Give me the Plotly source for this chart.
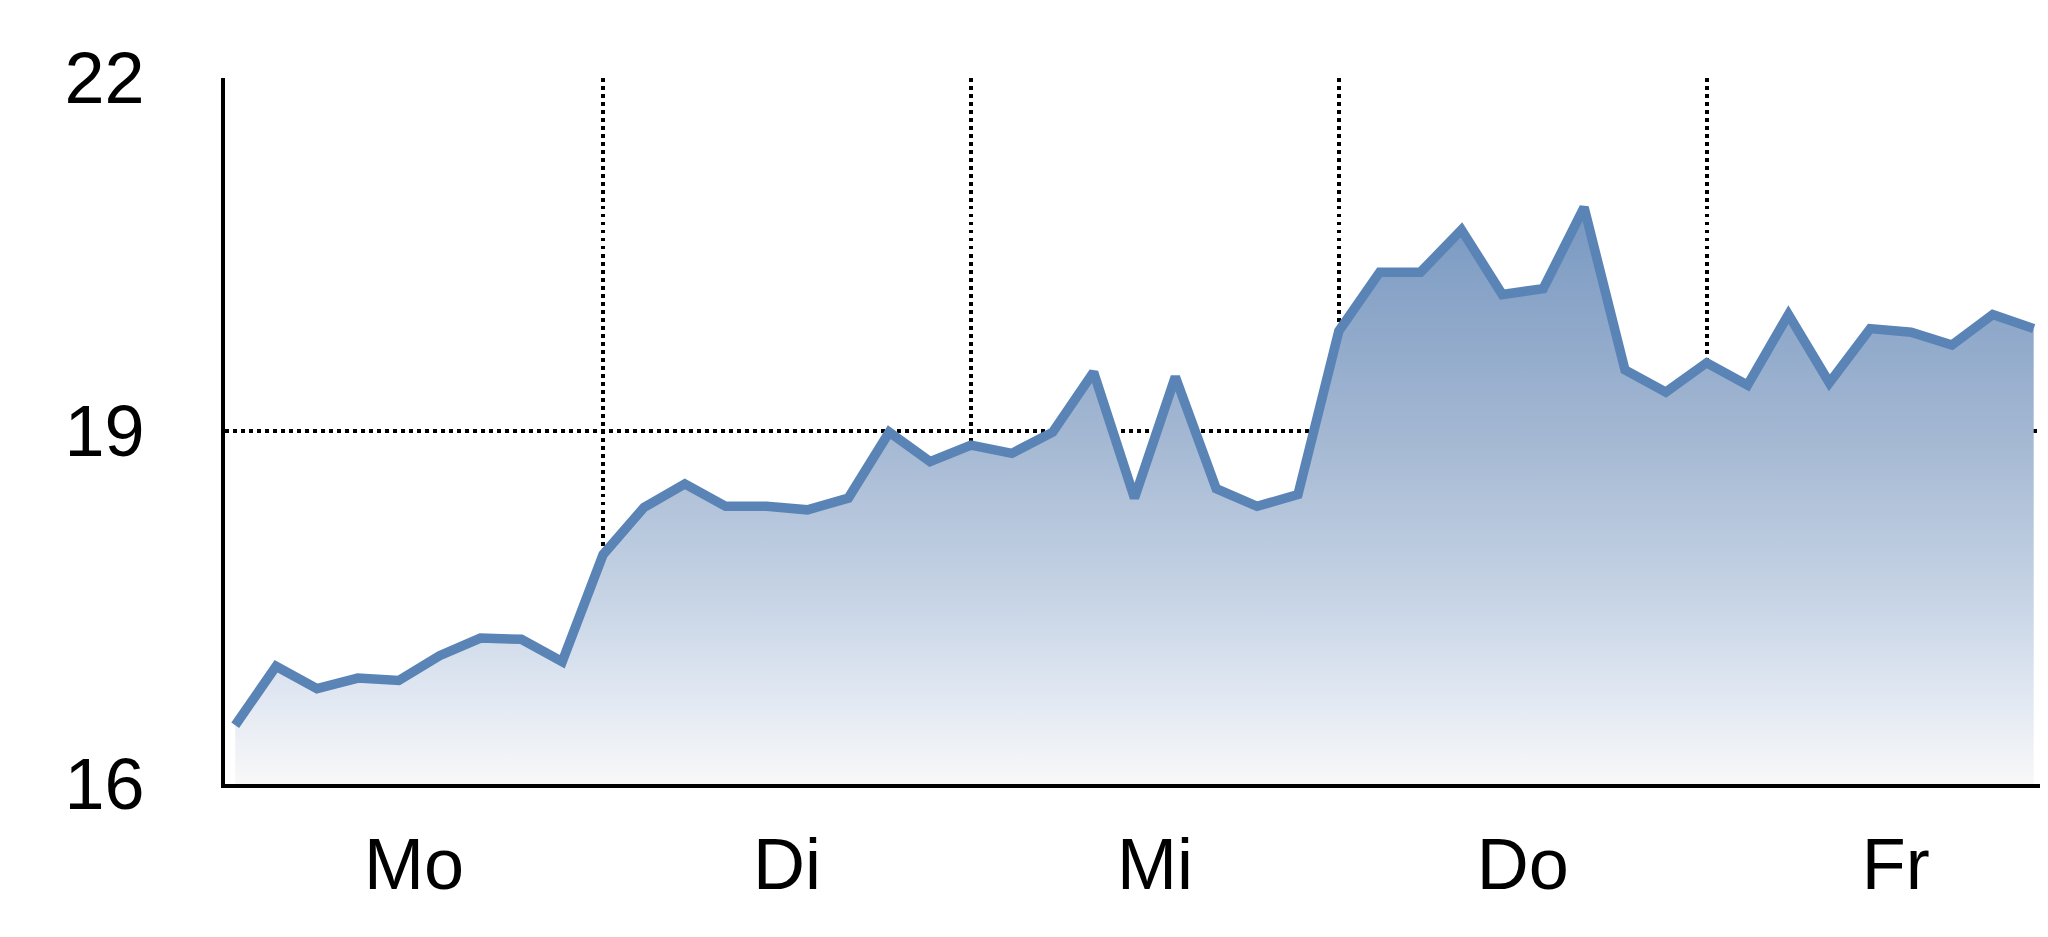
import plotly.graph_objects as go

# Wochentage (x-Achse) und Kursverlauf, 9 Werte pro Tag
days = ["Mo", "Di", "Mi", "Do", "Fr"]
kurs = [
    16.50, 17.00, 16.81, 16.90, 16.88, 17.09, 17.24, 17.23, 17.04,  # Mo
    17.95, 18.35, 18.55, 18.36, 18.36, 18.33, 18.43, 18.99, 18.74,  # Di
    18.88, 18.81, 18.99, 19.50, 18.43, 19.46, 18.51, 18.36, 18.46,  # Mi
    19.85, 20.35, 20.35, 20.71, 20.16, 20.21, 20.90, 19.52, 19.33,  # Do
    19.58, 19.39, 19.99, 19.41, 19.87, 19.84, 19.73, 19.99, 19.87,  # Fr
]
y_ticks = [16, 19, 22]

per_day = 9
x = list(range(len(kurs)))

# day boundaries (dotted verticals) and label positions in the middle of each day
x_lo, x_hi = -0.25, 44.35
bounds = [per_day * k for k in range(1, len(days))]
edges = [x_lo] + bounds + [per_day * len(days) + 0.25]
label_pos = [(a + b) / 2 for a, b in zip(edges[:-1], edges[1:])]

font = dict(family="Liberation Sans, Arial, sans-serif", size=72, color="black")

fig = go.Figure()

fig.add_trace(
    go.Scatter(
        x=x,
        y=kurs,
        mode="lines",
        line=dict(color="#5a84b6", width=9.5),
        fill="tozeroy",
        fillgradient=dict(
            type="vertical",
            start=y_ticks[0],
            stop=max(kurs),
            colorscale=[
                [0.0, "#f8f8f8"],
                [0.16, "#e0e7f2"],
                [0.31, "#c8d5e6"],
                [0.61, "#a3b7d2"],
                [1.0, "#7898c1"],
            ],
        ),
        showlegend=False,
        hoverinfo="skip",
    )
)

# page body has an 8px margin, so the figure is 8px smaller and margins shifted
fig.update_layout(
    width=2040,
    height=929,
    margin=dict(l=217, r=0, t=70, b=153),
    paper_bgcolor="white",
    plot_bgcolor="white",
    font=font,
    showlegend=False,
    xaxis=dict(
        range=[x_lo, x_hi],
        automargin=False,
        tickmode="array",
        tickvals=label_pos,
        ticktext=days,
        ticks="",
        showgrid=False,
        zeroline=False,
        showline=True,
        linecolor="black",
        linewidth=4,
        ticklabelstandoff=15,
        minor=dict(
            tickmode="array",
            tickvals=bounds,
            ticks="",
            showgrid=True,
            gridcolor="black",
            gridwidth=3.5,
            griddash="3.5px,4.5px",
        ),
    ),
    yaxis=dict(
        range=[y_ticks[0], y_ticks[-1]],
        automargin=False,
        tickmode="array",
        tickvals=y_ticks,
        ticks="",
        showgrid=False,
        zeroline=False,
        showline=True,
        linecolor="black",
        linewidth=4,
        ticklabelstandoff=62,
        minor=dict(
            tickmode="array",
            tickvals=y_ticks[1:-1],
            ticks="",
            showgrid=True,
            gridcolor="black",
            gridwidth=3.5,
            griddash="3.5px,4.5px",
        ),
    ),
)

fig.write_html("out.html")
